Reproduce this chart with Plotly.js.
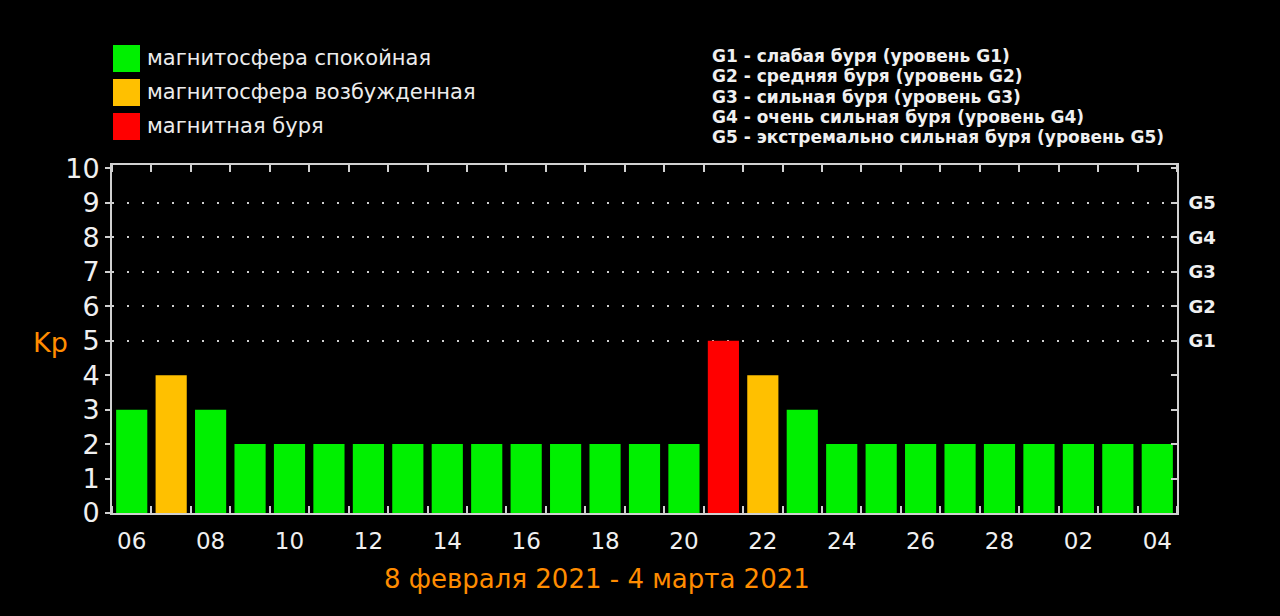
<!DOCTYPE html>
<html>
<head>
<meta charset="utf-8">
<script src="https://cdn.plot.ly/plotly-3.0.1.min.js"></script>
<style>
html,body{margin:0;padding:0;background:#000;}
#chart{width:1280px;height:616px;}
</style>
</head>
<body>
<div id="chart"></div>
<script>
// Dates (one bar per day)
const dates = ["2021-02-06","2021-02-07","2021-02-08","2021-02-09","2021-02-10","2021-02-11","2021-02-12","2021-02-13","2021-02-14","2021-02-15","2021-02-16","2021-02-17","2021-02-18","2021-02-19","2021-02-20","2021-02-21","2021-02-22","2021-02-23","2021-02-24","2021-02-25","2021-02-26","2021-02-27","2021-02-28","2021-03-01","2021-03-02","2021-03-03","2021-03-04"];
// Kp index values
const kp = [3,4,3,2,2,2,2,2,2,2,2,2,2,2,2,5,4,3,2,2,2,2,2,2,2,2,2];
// Status per day: q = quiet, e = excited, s = storm
const status = ["q","e","q","q","q","q","q","q","q","q","q","q","q","q","q","s","e","q","q","q","q","q","q","q","q","q","q"];

const legendLabels = ["магнитосфера спокойная","магнитосфера возбужденная","магнитная буря"];
const stormLevels = [5,6,7,8,9];
const stormLabels = ["G1","G2","G3","G4","G5"];
const stormNotes = [
  "G1 - слабая буря (уровень G1)",
  "G2 - средняя буря (уровень G2)",
  "G3 - сильная буря (уровень G3)",
  "G4 - очень сильная буря (уровень G4)",
  "G5 - экстремально сильная буря (уровень G5)"
];
const xTitle = "8 февраля 2021 - 4 марта 2021";
const yTitle = "Kp";

const colors = {q:"#00f000", e:"#ffc000", s:"#ff0000"};
const keys = ["q","e","s"];

const traces = keys.map(k => ({
  type:"bar",
  x: dates,
  y: kp.map((v,i)=> status[i]===k ? v : null),
  marker:{color:colors[k], line:{width:0}},
  name: legendLabels[keys.indexOf(k)],
  hoverinfo:"x+y",
  showlegend:false
}));
// invisible trace for right axis
traces.push({type:"scatter", x:[dates[0]], y:[0], yaxis:"y2", mode:"markers", marker:{opacity:0}, showlegend:false, hoverinfo:"skip"});

const fontMain = "DejaVu Sans, Verdana, sans-serif";
const annotations = [];
const shapes = [];
legendLabels.forEach((t,i)=>{
  const top = 45 + i*34;
  shapes.push({type:"rect", xref:"paper", yref:"paper", xsizemode:"pixel", ysizemode:"pixel",
    xanchor:0, yanchor:1, x0:1, x1:28, y0:(165-top-27), y1:(165-top),
    line:{width:0}, fillcolor:colors[keys[i]]});
  annotations.push({xref:"paper", yref:"paper", x:0, y:1, xanchor:"left", yanchor:"middle",
    xshift:33, yshift:165-top-13, text:t, showarrow:false,
    font:{family:fontMain, size:21, color:"#ececec"}});
});
stormNotes.forEach((t,i)=>{
  annotations.push({xref:"paper", yref:"paper", x:0, y:1, xanchor:"left", yanchor:"middle",
    xshift:598, yshift:165-(56+i*20.3), text:"<b>"+t+"</b>", showarrow:false,
    font:{family:fontMain, size:17, color:"#f0f0f0"}});
});
// y-axis title (horizontal)
annotations.push({xref:"paper", yref:"paper", x:0, y:1, xanchor:"center", yanchor:"middle",
  xshift:-62, yshift:165-342, text:yTitle, showarrow:false,
  font:{family:fontMain, size:27, color:"#ff8c00"}});
// x-axis title
annotations.push({xref:"paper", yref:"paper", x:0, y:0, xanchor:"center", yanchor:"middle",
  xshift:597-112, yshift:513-579, text:xTitle, showarrow:false,
  font:{family:fontMain, size:26, color:"#ff8c00"}});

const layout = {
  width:1280, height:616,
  paper_bgcolor:"#000", plot_bgcolor:"#000",
  margin:{l:112, r:103, t:165, b:103},
  barmode:"overlay", bargap:0.21,
  showlegend:false,
  xaxis:{
    type:"date",
    range:["2021-02-05 12:00","2021-03-04 12:00"],
    tick0:"2021-02-06", dtick:2*86400000, tickformat:"%d",
    ticks:"", showgrid:false, zeroline:false,
    showline:true, linecolor:"#d0d0d0", linewidth:2, mirror:"ticks",
    tickfont:{family:fontMain, size:23, color:"#f0f0f0"},
    ticklabelstandoff:6,
    minor:{tick0:"2021-02-06 12:00", dtick:86400000, ticks:"inside", ticklen:7, tickwidth:2, tickcolor:"#d0d0d0", showgrid:false}
  },
  yaxis:{
    range:[0,10.1], tickvals:[0,1,2,3,4,5,6,7,8,9,10],
    ticks:"outside", ticklen:5, tickwidth:2, tickcolor:"#d0d0d0",
    showgrid:false, zeroline:false,
    showline:true, linecolor:"#d0d0d0", linewidth:2,
    tickfont:{family:fontMain, size:27, color:"#f0f0f0"},
    ticklabelstandoff:0
  },
  yaxis2:{
    overlaying:"y", side:"right", range:[0,10.1],
    tickmode:"array", tickvals:stormLevels, ticktext:stormLabels.map(s=>"<b>"+s+"</b>"),
    ticks:"inside", ticklen:6, tickwidth:2, tickcolor:"#d0d0d0",
    showgrid:true, gridcolor:"#cfcfcf", griddash:"2px,13px", gridwidth:2,
    zeroline:false, showline:true, linecolor:"#d0d0d0", linewidth:2,
    tickfont:{family:fontMain, size:18, color:"#f0f0f0"},
    ticklabelstandoff:6,
    minor:{tickmode:"linear", tick0:0, dtick:1, ticks:"inside", ticklen:6, tickwidth:2, tickcolor:"#d0d0d0", showgrid:false}
  },
  shapes:shapes,
  annotations:annotations
};

Plotly.newPlot("chart", traces, layout, {displayModeBar:false, staticPlot:true});
</script>
</body>
</html>
